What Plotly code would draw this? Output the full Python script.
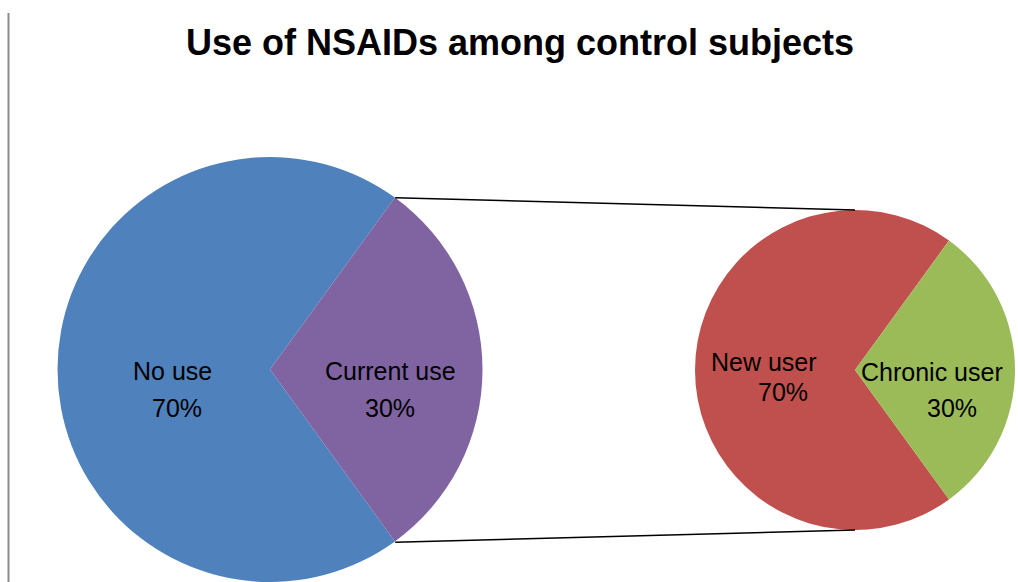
import math
import plotly.graph_objects as go

# ---- data ----
main_labels = ["No use", "Current use"]
main_values = [70, 30]
sub_labels = ["New user", "Chronic user"]
sub_values = [70, 30]
title_text = "Use of NSAIDs among control subjects"

main_colors = ["#4F81BD", "#8064A2"]
sub_colors = ["#C0504D", "#9BBB59"]

W, H = 1018, 582
FONT = "Liberation Sans, Arial, sans-serif"

# geometry in pixels (centre x, centre y from top, radius)
L_CX, L_CY, L_R = 270, 370, 213
R_CX, R_CY, R_R = 855, 370, 160


def dom(cx, cy, r):
    return dict(x=[(cx - r) / W, (cx + r) / W],
                y=[max(0, (H - cy - r) / H), (H - cy + r) / H])


def rot(values):
    # counterclockwise layout: first slice ends at `rotation` (clockwise from top);
    # choose it so the second slice is centred at 3 o'clock
    tot = sum(values)
    half = values[1] / tot * 180.0
    return 90 + half


fig = go.Figure()
fig.add_trace(go.Pie(
    labels=main_labels, values=main_values, sort=False,
    direction="counterclockwise", rotation=rot(main_values),
    marker=dict(colors=main_colors, line=dict(width=0)),
    textinfo="none", hoverinfo="label+percent", showlegend=False,
    domain=dom(L_CX, L_CY, L_R)))
fig.add_trace(go.Pie(
    labels=sub_labels, values=sub_values, sort=False,
    direction="counterclockwise", rotation=rot(sub_values),
    marker=dict(colors=sub_colors, line=dict(width=0)),
    textinfo="none", hoverinfo="label+percent", showlegend=False,
    domain=dom(R_CX, R_CY, R_R)))

# connector lines from the split slice edge to top/bottom of secondary pie
half_ang = math.radians(main_values[1] / sum(main_values) * 180.0)
px = L_CX + L_R * math.cos(half_ang)
py_top = L_CY - L_R * math.sin(half_ang)
py_bot = L_CY + L_R * math.sin(half_ang)
shapes = []
for (y0, y1) in [(py_top, R_CY - R_R), (py_bot, R_CY + R_R)]:
    shapes.append(dict(type="line", xref="paper", yref="paper",
                       x0=px / W, y0=1 - y0 / H, x1=R_CX / W, y1=1 - y1 / H,
                       line=dict(color="black", width=1.5)))
# left border line
shapes.append(dict(type="line", xref="paper", yref="paper",
                   x0=8.5 / W, x1=8.5 / W, y0=0, y1=1 - 13 / H,
                   line=dict(color="#8c8c8c", width=2)))

# labels (name line, percent line) at pixel positions
label_pos = [
    (main_labels[0], main_values, 0, (172, 371), (177, 408)),
    (main_labels[1], main_values, 1, (390, 371), (390, 408)),
    (sub_labels[0], sub_values, 0, (764, 362), (783, 392)),
    (sub_labels[1], sub_values, 1, (932, 372), (952, 408)),
]
annotations = []
for name, vals, i, p1, p2 in label_pos:
    pct = round(vals[i] / sum(vals) * 100)
    for txt, (x, y) in [(name, p1), (f"{pct}%", p2)]:
        annotations.append(dict(text=txt, x=x / W, y=1 - y / H,
                                xref="paper", yref="paper",
                                xanchor="center", yanchor="middle",
                                showarrow=False,
                                font=dict(family=FONT, size=25, color="black")))

fig.update_layout(
    width=W, height=H,
    margin=dict(l=0, r=0, t=0, b=0),
    paper_bgcolor="white", plot_bgcolor="white",
    title=dict(text=f"<b>{title_text}</b>", x=520 / W, xanchor="center",
               y=1 - 42 / H, yanchor="middle", yref="container",
               font=dict(family=FONT, size=36, color="black")),
    shapes=shapes, annotations=annotations,
)

fig.write_html("out.html")
